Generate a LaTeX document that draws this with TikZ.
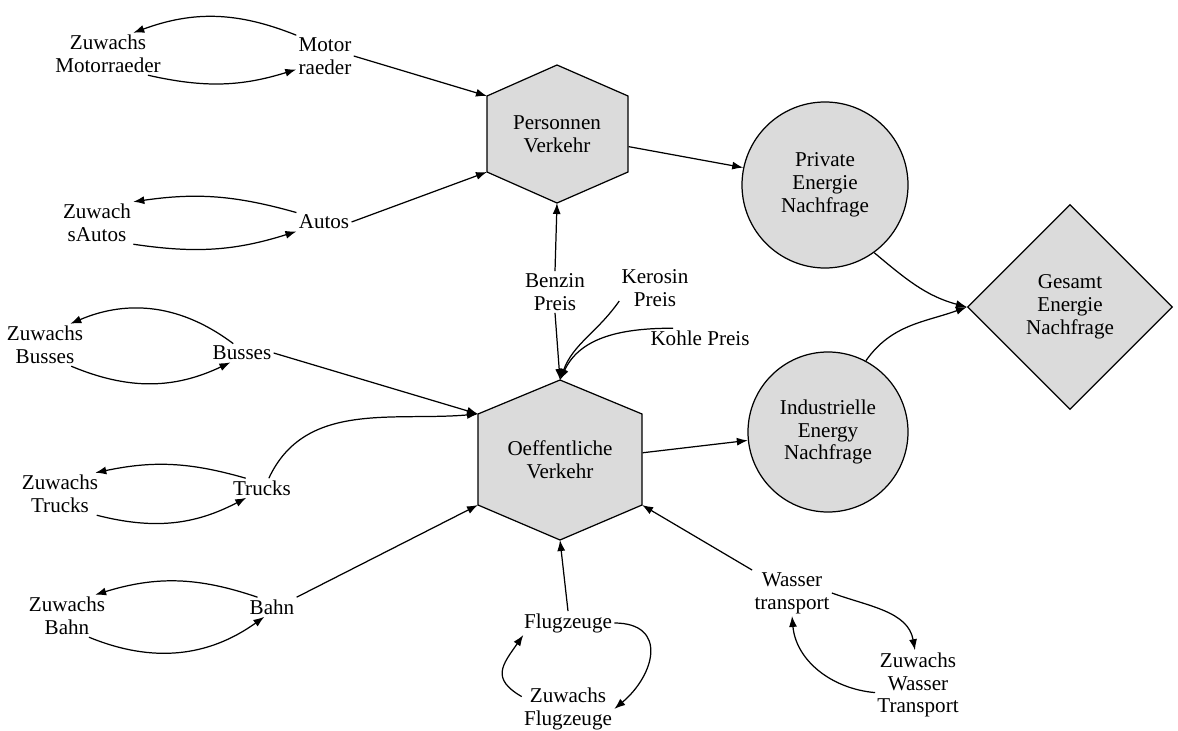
\documentclass[tikz,border=0pt]{standalone}
\usepackage{fontspec}
\setmainfont{Liberation Serif}
\usetikzlibrary{arrows.meta,shapes.geometric}

\begin{document}
\begin{tikzpicture}[line width=0.7pt,
  every node/.style={font=\fontsize{12}{13}\selectfont, align=center, inner sep=1pt},
  arr/.style={-{Latex[length=2.2mm,width=1.6mm]}},
  hexa/.style={draw, fill=gray!28},
  demand/.style={draw, circle, fill=gray!28}]
  \useasboundingbox (0,0) rectangle (23.56,14.6);

  % Verkehr hexagons
  \draw[hexa] (11.14,13.30) -- (12.56,12.68) -- (12.56,11.16) -- (11.14,10.54) coordinate (pv-b)
    -- (9.74,11.16) coordinate (pv-ll) -- (9.74,12.68) coordinate (pv-ul) -- cycle;
  \node[minimum width=2.84cm] (pv) at (11.14,11.92) {Personnen\\Verkehr};
  \draw[hexa] (11.20,7.00) coordinate (ov-t) -- (12.84,6.32) -- (12.84,4.50) coordinate (ov-lr)
    -- (11.20,3.80) coordinate (ov-b) -- (9.56,4.50) coordinate (ov-ll) -- (9.56,6.32) coordinate (ov-ul) -- cycle;
  \node[minimum width=3.28cm] (ov) at (11.20,5.40) {Oeffentliche\\Verkehr};

  % Nachfrage
  \node[demand, minimum size=3.32cm] (pen) at (16.50,10.90) {Private\\Energie\\Nachfrage};
  \node[demand, minimum size=3.2cm] (ien) at (16.56,5.96) {Industrielle\\Energy\\Nachfrage};
  \node[draw, diamond, aspect=1, fill=gray!28, minimum size=4.1cm] (gen) at (21.40,8.46) {Gesamt\\Energie\\Nachfrage};

  % Fahrzeuge
  \node (zmr) at (2.16,13.52) {Zuwachs\\Motorraeder};
  \node (mr) at (6.50,13.48) {Motor\\raeder};
  \node (za) at (1.94,10.14) {Zuwach\\sAutos};
  \node (au) at (6.48,10.16) {Autos};
  \node (zbu) at (0.90,7.70) {Zuwachs\\Busses};
  \node (bu) at (4.84,7.54) {Busses};
  \node (ztr) at (1.20,4.72) {Zuwachs\\Trucks};
  \node (tr) at (5.24,4.84) {Trucks};
  \node (zba) at (1.34,2.28) {Zuwachs\\Bahn};
  \node (ba) at (5.44,2.46) {Bahn};
  \node (fl) at (11.36,2.14) {Flugzeuge};
  \node (zfl) at (11.36,0.42) {Zuwachs\\Flugzeuge};
  \node (wt) at (15.84,2.74) {Wasser\\transport};
  \node (zwt) at (18.36,0.90) {Zuwachs\\Wasser\\Transport};

  % Preise
  \node (bp) at (11.10,8.76) {Benzin\\Preis};
  \node (kp) at (13.10,8.84) {Kerosin\\Preis};
  \node (kop) at (14.00,7.84) {Kohle Preis};

  % connectors
  \draw[arr] (mr.east) -- (pv-ul);
  \draw[arr] (au.east) -- (pv-ll);
  \draw[arr] (bu.east) -- (ov-ul);
  \draw[arr] (tr.55) to[out=65,in=185] (ov-ul);
  \draw[arr] (ba.north east) -- (ov-ll);
  \draw[arr] (bp.north) -- (pv-b);
  \draw[arr] (bp.south) -- (ov-t);
  \draw[arr] (kp.200) to[out=235,in=70] (ov-t);
  \draw[arr] (kop.160) to[out=180,in=65] (ov-t);
  \draw[arr] (fl.north) -- (ov-b);
  \draw[arr] (wt.north west) -- (ov-lr);
  \draw[arr] (pv.-10) -- (pen.168);
  \draw[arr] (ov.5) -- (ien.186);
  \draw[arr] (pen.-54) to[out=-40,in=165] (gen.west);
  \draw[arr] (ien.62) to[out=55,in=200] (gen.west);

  % Zuwachs loops
  \draw[arr] (mr.north west) to[bend right=21] (zmr.40);
  \draw[arr] (zmr.-28) to[bend right=15] (mr.205);
  \draw[arr] (au.north west) to[bend right=12] (za.north east);
  \draw[arr] (za.south east) to[bend right=13] (au.south west);
  \draw[arr] (bu.133) to[bend right=30] (zbu.40);
  \draw[arr] (zbu.-39) to[bend right=24] (bu.219);
  \draw[arr] (tr.149) to[bend right=14] (ztr.31);
  \draw[arr] (ztr.-30) to[bend right=21] (tr.212);
  \draw[arr] (ba.146) to[bend right=18] (zba.37);
  \draw[arr] (zba.-44) to[bend right=29] (ba.232);
  \draw[arr] (fl.east) to[out=0,in=40,looseness=1.6] (zfl.east);
  \draw[arr] (zfl.165) to[out=150,in=235,looseness=1.5] (fl.195);
  \draw[arr] (wt.east) to[out=-20,in=100] (zwt.95);
  \draw[arr] (zwt.190) to[out=175,in=-85] (wt.south);
\end{tikzpicture}
\end{document}
